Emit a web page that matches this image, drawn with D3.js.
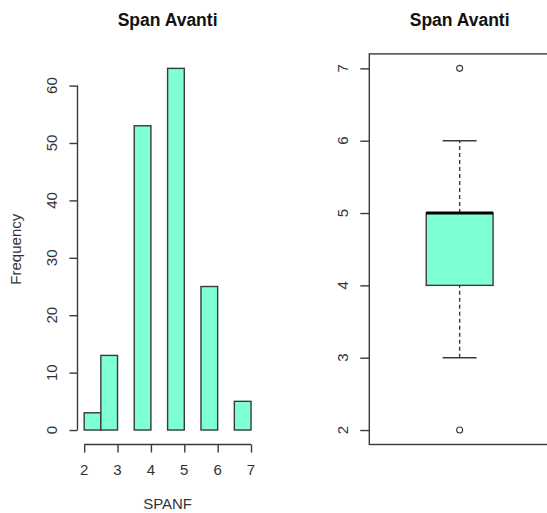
<!DOCTYPE html>
<html>
<head>
<meta charset="utf-8">
<script src="https://cdn.jsdelivr.net/npm/d3@7"></script>
<style>
  body { margin: 0; background: #fff; }
  svg { display: block; font-family: 'Liberation Sans', Arial, sans-serif; }
  .tick-label { font-size: 15px; fill: #333; }
  .axis-label { font-size: 15px; fill: #333; }
  .title { font-size: 17.5px; font-weight: bold; fill: #111; }
</style>
</head>
<body>
<svg width="547" height="513"></svg>
<script>
const svg = d3.select('svg');

// histogram of SPANF, bins of width 0.5
const binStarts = [2, 2.5, 3, 3.5, 4, 4.5, 5, 5.5, 6, 6.5];
const binCounts = [3, 13, 0, 53, 0, 63, 0, 25, 0, 5];
const histXTicks = [2, 3, 4, 5, 6, 7];
const histYTicks = [0, 10, 20, 30, 40, 50, 60];

// boxplot stats
const boxStats = [3, 4, 5, 5, 6]; // lower whisker, Q1, median, Q3, upper whisker
const boxOutliers = [2, 7];
const boxYTicks = [2, 3, 4, 5, 6, 7];

const title = 'Span Avanti';
const fill = '#7FFFD4';
const ink = '#3a3a3a';
const lw = 1.4;

// ---- histogram panel ----
const plotTop = 53.9;
const plotBottom = 444.5;

const hx = d3.scaleLinear().domain([1.8, 7.2]).range([77.5, 257.7]);
const hy = d3.scaleLinear().domain([-2.52, 65.52]).range([plotBottom, plotTop]);

const hist = svg.append('g');

hist.selectAll('rect.bar')
  .data(binStarts)
  .enter()
  .append('rect')
  .attr('class', 'bar')
  .attr('x', d => hx(d))
  .attr('width', d => hx(d + 0.5) - hx(d))
  .attr('y', (d, i) => hy(binCounts[i]))
  .attr('height', (d, i) => hy(0) - hy(binCounts[i]))
  .attr('fill', fill)
  .attr('stroke', ink)
  .attr('stroke-width', lw);

// y axis
const hyAxis = d3.axisLeft(hy).tickValues(histYTicks).tickSize(8).tickFormat('');
const hyG = hist.append('g').attr('transform', `translate(${hx(1.8)},0)`).call(hyAxis);
hyG.select('.domain').attr('d', `M0,${hy(0)}V${hy(60)}`).attr('stroke', ink).attr('stroke-width', lw);
hyG.selectAll('.tick line').attr('stroke', ink).attr('stroke-width', lw);

hist.selectAll('text.ylab')
  .data(histYTicks)
  .enter()
  .append('text')
  .attr('class', 'tick-label')
  .attr('transform', d => `translate(52,${hy(d)}) rotate(-90)`)
  .attr('text-anchor', 'middle')
  .attr('dy', '0.35em')
  .text(d => d);

// x axis
const hxAxis = d3.axisBottom(hx).tickValues(histXTicks).tickSize(8).tickFormat('');
const hxG = hist.append('g').attr('transform', `translate(0,${plotBottom})`).call(hxAxis);
hxG.select('.domain').attr('d', `M${hx(2)},0H${hx(7)}`).attr('stroke', ink).attr('stroke-width', lw);
hxG.selectAll('.tick line').attr('stroke', ink).attr('stroke-width', lw);

hist.selectAll('text.xlab')
  .data(histXTicks)
  .enter()
  .append('text')
  .attr('class', 'tick-label')
  .attr('x', d => hx(d))
  .attr('y', 475)
  .attr('text-anchor', 'middle')
  .text(d => d);

hist.append('text')
  .attr('class', 'axis-label')
  .attr('x', (hx(1.8) + hx(7.2)) / 2)
  .attr('y', 509)
  .attr('text-anchor', 'middle')
  .text('SPANF');

hist.append('text')
  .attr('class', 'axis-label')
  .attr('transform', `translate(16,${(plotTop + plotBottom) / 2}) rotate(-90)`)
  .attr('text-anchor', 'middle')
  .attr('dy', '0.35em')
  .text('Frequency');

hist.append('text')
  .attr('class', 'title')
  .attr('x', (hx(1.8) + hx(7.2)) / 2)
  .attr('y', 26)
  .attr('text-anchor', 'middle')
  .text(title);

// ---- boxplot panel ----
const bx = d3.scaleLinear().domain([0.5, 1.5]).range([369.3, 550]);
const by = d3.scaleLinear().domain([1.8, 7.2]).range([plotBottom, plotTop]);

const box = svg.append('g');
const [lo, q1, med, q3, hi] = boxStats;
const halfBox = 0.185;
const halfCap = 0.094;

// frame
box.append('rect')
  .attr('x', bx(0.5))
  .attr('y', by(7.2))
  .attr('width', bx(1.5) - bx(0.5))
  .attr('height', by(1.8) - by(7.2))
  .attr('fill', 'none')
  .attr('stroke', ink)
  .attr('stroke-width', lw);

// whiskers
box.selectAll('line.whisker')
  .data([[lo, q1], [q3, hi]])
  .enter()
  .append('line')
  .attr('x1', bx(1)).attr('x2', bx(1))
  .attr('y1', d => by(d[0])).attr('y2', d => by(d[1]))
  .attr('stroke', ink)
  .attr('stroke-width', lw)
  .attr('stroke-dasharray', '4,3');

box.selectAll('line.cap')
  .data([lo, hi])
  .enter()
  .append('line')
  .attr('x1', bx(1 - halfCap)).attr('x2', bx(1 + halfCap))
  .attr('y1', d => by(d)).attr('y2', d => by(d))
  .attr('stroke', ink)
  .attr('stroke-width', lw);

box.append('rect')
  .attr('x', bx(1 - halfBox))
  .attr('width', bx(1 + halfBox) - bx(1 - halfBox))
  .attr('y', by(q3))
  .attr('height', by(q1) - by(q3))
  .attr('fill', fill)
  .attr('stroke', ink)
  .attr('stroke-width', lw);

box.append('line')
  .attr('x1', bx(1 - halfBox)).attr('x2', bx(1 + halfBox))
  .attr('y1', by(med)).attr('y2', by(med))
  .attr('stroke', '#000')
  .attr('stroke-width', 3);

box.selectAll('circle.out')
  .data(boxOutliers)
  .enter()
  .append('circle')
  .attr('cx', bx(1))
  .attr('cy', d => by(d))
  .attr('r', 3)
  .attr('fill', 'none')
  .attr('stroke', ink)
  .attr('stroke-width', 1.1);

const byAxis = d3.axisLeft(by).tickValues(boxYTicks).tickSize(9).tickFormat('');
const byG = box.append('g').attr('transform', `translate(${bx(0.5)},0)`).call(byAxis);
byG.select('.domain').remove();
byG.selectAll('.tick line').attr('stroke', ink).attr('stroke-width', lw);

box.selectAll('text.blab')
  .data(boxYTicks)
  .enter()
  .append('text')
  .attr('class', 'tick-label')
  .attr('transform', d => `translate(343,${by(d)}) rotate(-90)`)
  .attr('text-anchor', 'middle')
  .attr('dy', '0.35em')
  .text(d => d);

box.append('text')
  .attr('class', 'title')
  .attr('x', bx(1))
  .attr('y', 26)
  .attr('text-anchor', 'middle')
  .text(title);
</script>
</body>
</html>
